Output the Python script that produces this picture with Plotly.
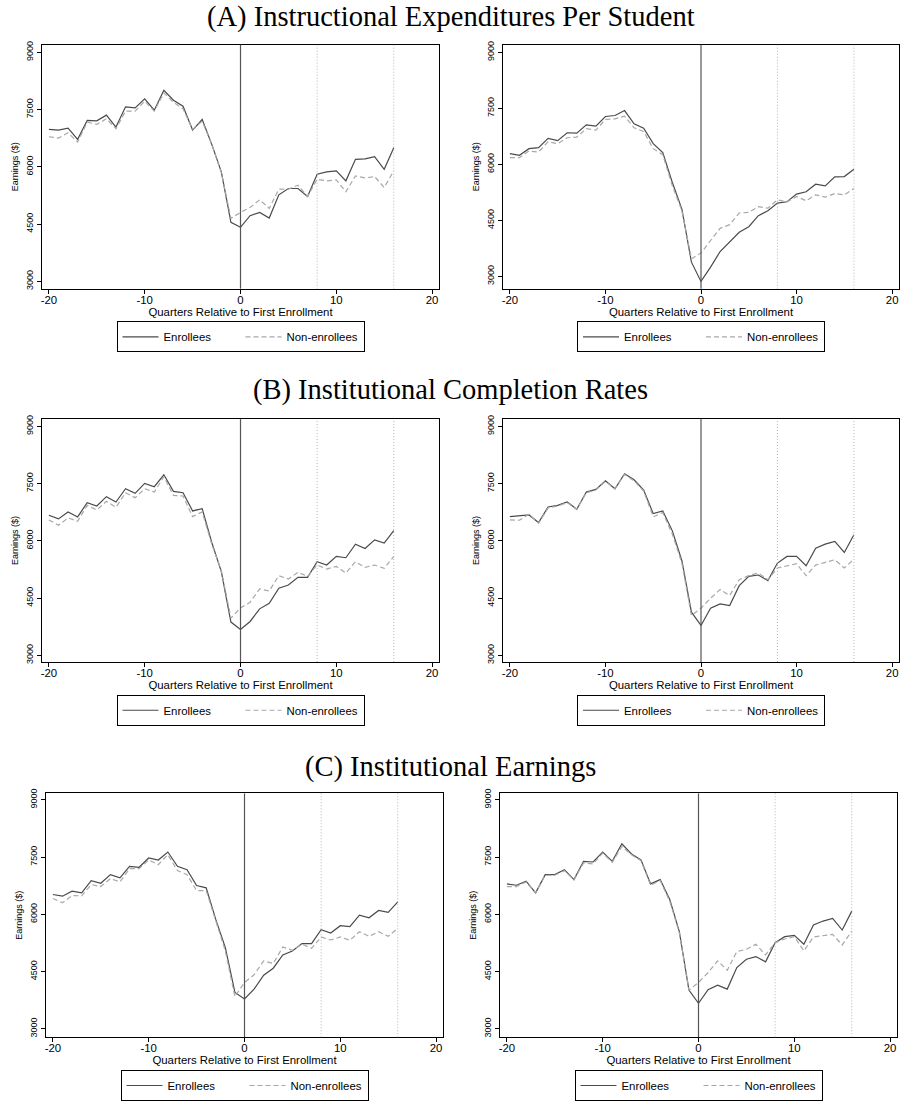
import plotly.graph_objects as go

W, H = 901, 1101

quarters = list(range(-20, 17))

# Panel A (Instructional Expenditures Per Student)
a_left_enr = [6983, 6965, 7017, 6722, 7217, 7209, 7357, 7043, 7574, 7548, 7783, 7487, 8009, 7748, 7591, 6965, 7243,
              6591, 5870, 4548, 4417, 4722, 4809, 4661, 5270, 5435, 5435, 5226, 5809, 5870, 5896, 5635, 6200, 6209,
              6270, 5939, 6504]
a_left_non = [6791, 6757, 6896, 6652, 7174, 7113, 7261, 7000, 7461, 7461, 7722, 7461, 7939, 7696, 7522, 6983, 7200,
              6591, 5852, 4652, 4809, 4939, 5139, 4913, 5417, 5417, 5522, 5226, 5678, 5635, 5661, 5348, 5765, 5713,
              5748, 5461, 5896]
a_right_enr = [6289, 6244, 6422, 6449, 6698, 6636, 6849, 6840, 7062, 7027, 7284, 7311, 7444, 7089, 6973, 6556, 6316,
               5516, 4804, 3382, 2867, 3249, 3667, 3916, 4182, 4333, 4627, 4760, 4964, 5000, 5204, 5267, 5471, 5427,
               5667, 5676, 5871]
a_right_non = [6182, 6182, 6360, 6333, 6609, 6556, 6716, 6733, 6956, 6920, 7204, 7222, 7293, 6982, 6884, 6422, 6262,
               5427, 4760, 3471, 3631, 3960, 4289, 4387, 4698, 4716, 4867, 4831, 5053, 5000, 5142, 5027, 5187, 5124,
               5222, 5187, 5356]

# Panel B (Institutional Completion Rates)
b_left_enr = [6670, 6574, 6757, 6626, 7000, 6913, 7157, 7017, 7365, 7243, 7504, 7417, 7730, 7296, 7261, 6783, 6844,
              5957, 5191, 3870, 3678, 3887, 4217, 4365, 4757, 4843, 5043, 5043, 5452, 5365, 5591, 5557, 5913, 5800,
              6026, 5939, 6270]
b_left_non = [6548, 6409, 6600, 6513, 6930, 6809, 7035, 6878, 7261, 7130, 7365, 7278, 7678, 7191, 7174, 6635, 6757,
              5913, 5217, 3974, 4243, 4391, 4739, 4687, 5087, 5000, 5174, 5070, 5365, 5261, 5330, 5157, 5452, 5304,
              5365, 5278, 5591]
b_right_enr = [6635, 6661, 6678, 6478, 6887, 6930, 7017, 6826, 7278, 7348, 7574, 7365, 7757, 7600, 7330, 6713, 6783,
               6261, 5478, 4130, 3783, 4235, 4348, 4304, 4826, 5070, 5104, 4957, 5417, 5591, 5591, 5348, 5809, 5913,
               5983, 5696, 6157]
b_right_non = [6548, 6539, 6696, 6461, 6861, 6913, 7000, 6826, 7261, 7330, 7557, 7365, 7739, 7574, 7304, 6626, 6739,
               6174, 5417, 4043, 4235, 4496, 4722, 4565, 4983, 5087, 5157, 4983, 5287, 5348, 5400, 5087, 5365, 5435,
               5504, 5287, 5522]

# Panel C (Institutional Earnings)
c_left_enr = [6522, 6478, 6609, 6565, 6887, 6817, 7043, 6957, 7261, 7235, 7478, 7426, 7635, 7261, 7174, 6757, 6696,
              5870, 5130, 3957, 3783, 4043, 4409, 4591, 4939, 5043, 5235, 5235, 5600, 5513, 5704, 5678, 5983, 5913,
              6104, 6052, 6330]
c_left_non = [6417, 6304, 6496, 6487, 6783, 6730, 6939, 6852, 7200, 7200, 7426, 7304, 7565, 7148, 7043, 6626, 6626,
              5826, 5043, 3843, 4217, 4417, 4783, 4713, 5148, 5061, 5217, 5113, 5409, 5330, 5409, 5322, 5548, 5426,
              5548, 5426, 5635]
c_right_enr = [6800, 6765, 6870, 6565, 7043, 7043, 7174, 6913, 7391, 7374, 7635, 7391, 7852, 7583, 7426, 6800, 6913,
               6391, 5548, 4017, 3670, 4026, 4148, 4043, 4609, 4826, 4896, 4757, 5261, 5417, 5452, 5217, 5722, 5826,
               5896, 5591, 6087]
c_right_non = [6730, 6730, 6852, 6565, 7026, 7026, 7148, 6904, 7348, 7322, 7609, 7365, 7783, 7565, 7409, 6765, 6887,
               6348, 5522, 4017, 4217, 4478, 4783, 4539, 5026, 5087, 5217, 4939, 5261, 5357, 5417, 5043, 5409, 5435,
               5478, 5200, 5565]

section_titles = ["(A) Instructional Expenditures Per Student",
                  "(B) Institutional Completion Rates",
                  "(C) Institutional Earnings"]
series_names = ["Enrollees", "Non-enrollees"]
x_ticks = [-20, -10, 0, 10, 20]
x_tick_labels = ["-20", "-10", "0", "10", "20"]
y_ticks = [3000, 4500, 6000, 7500, 9000]
y_tick_labels = ["3000", "4500", "6000", "7500", "9000"]
x_title = "Quarters Relative to First Enrollment"
y_title = "Earnings ($)"
ref_lines_dotted = [8, 16]

panels = [
    (a_left_enr, a_left_non), (a_right_enr, a_right_non),
    (b_left_enr, b_left_non), (b_right_enr, b_right_non),
    (c_left_enr, c_left_non), (c_right_enr, c_right_non),
]

# layout geometry (pixels)
px_x = [(42, 439), (503, 899), (42, 439), (503, 899), (46, 443), (500, 897)]
px_y = [(45, 290), (45, 290), (421, 665), (421, 665), (797, 1042), (797, 1042)]
y_ranges = [(2810, 9200), (2672, 9205), (2825, 9190), (2825, 9190), (2781, 9172), (2781, 9172)]
title_y_px = [17, 392, 770]


def fx(p):
    return p / W


def fy(p):
    return 1 - p / H


SANS = "Liberation Sans, Arial, sans-serif"
SERIF = "Liberation Serif, Times New Roman, serif"

fig = go.Figure()
layout = dict(width=W, height=H, margin=dict(l=0, r=0, t=0, b=0),
              paper_bgcolor="white", plot_bgcolor="white", showlegend=True,
              annotations=[], shapes=[])

for i, (enr, non) in enumerate(panels):
    k = i + 1
    sfx = "" if k == 1 else str(k)
    leg = "legend" if k == 1 else f"legend{k}"
    fig.add_trace(go.Scatter(x=quarters, y=enr, mode="lines", name=series_names[0],
                             line=dict(color="#4a4a4a", width=1.2),
                             xaxis="x" + sfx, yaxis="y" + sfx, legend=leg, hoverinfo="skip"))
    fig.add_trace(go.Scatter(x=quarters, y=non, mode="lines", name=series_names[1],
                             line=dict(color="#a8a8a8", width=1.2, dash="5px,3px"),
                             xaxis="x" + sfx, yaxis="y" + sfx, legend=leg, hoverinfo="skip"))

    x0, x1 = px_x[i]
    y0, y1 = px_y[i]
    layout["xaxis" + sfx] = dict(
        domain=[fx(x0), fx(x1)], anchor="y" + sfx, range=[-20.72, 20.72],
        tickvals=x_ticks, ticktext=x_tick_labels, ticks="outside", ticklen=4,
        tickcolor="black", tickwidth=1, ticklabelstandoff=-4,
        showline=True, linecolor="black", linewidth=1.2, mirror=True,
        showgrid=False, zeroline=False, automargin=False, fixedrange=True,
        tickfont=dict(family=SANS, size=11.4, color="black"),
        title=dict(text=x_title, font=dict(family=SANS, size=11.4, color="black"), standoff=0),
    )
    layout["yaxis" + sfx] = dict(
        domain=[fy(y1), fy(y0)], anchor="x" + sfx, range=list(y_ranges[i]),
        tickvals=y_ticks, ticktext=y_tick_labels, ticks="outside", ticklen=4,
        tickcolor="black", tickwidth=1,
        tickangle=-90,
        showline=True, linecolor="black", linewidth=1.2, mirror=True,
        showgrid=False, zeroline=False, automargin=False, fixedrange=True,
        tickfont=dict(family=SANS, size=9, color="black"),
        title=dict(text=y_title, font=dict(family=SANS, size=9, color="black"), standoff=5),
    )
    layout[leg] = dict(
        orientation="h", x=fx((x0 + x1) / 2), xanchor="center",
        y=fy(y1 + 48.5), yanchor="middle",
        bordercolor="black", borderwidth=1, bgcolor="white",
        font=dict(family=SANS, size=11.4, color="black"),
        itemwidth=36, tracegroupgap=0, entrywidth=72, entrywidthmode="pixels",
    )
    # reference lines: first enrollment (solid) and follow-up markers (dotted)
    layout["shapes"].append(dict(type="line", xref="x" + sfx, yref="y" + sfx + " domain",
                                 x0=0, x1=0, y0=0, y1=1, line=dict(color="#555555", width=1.2)))
    for q in ref_lines_dotted:
        layout["shapes"].append(dict(type="line", xref="x" + sfx, yref="y" + sfx + " domain",
                                     x0=q, x1=q, y0=0, y1=1,
                                     line=dict(color="#b5b5b5", width=1, dash="1px,2px")))

for t, ty in zip(section_titles, title_y_px):
    layout["annotations"].append(dict(text=t, x=fx(450.5), y=fy(ty),
                                      xref="paper", yref="paper",
                                      xanchor="center", yanchor="middle", showarrow=False,
                                      font=dict(family=SERIF, size=28.5, color="black")))

fig.update_layout(**layout)
fig.write_html("out.html", config={"displayModeBar": False, "staticPlot": True},
               post_script="document.body.style.margin='0px';")
